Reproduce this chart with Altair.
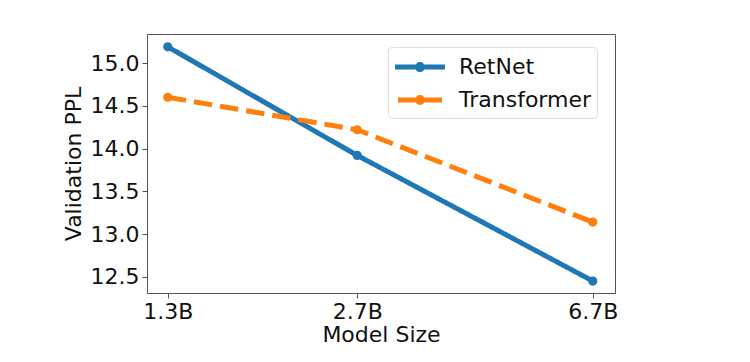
import altair as alt
import pandas as pd

sizes = [1.3, 2.7, 6.7]
retnet = [15.19, 13.92, 12.45]
transformer = [14.60, 14.22, 13.14]
series = ["RetNet", "Transformer"]

rows = []
for s, vals in zip(series, [retnet, transformer]):
    for x, v in zip(sizes, vals):
        rows.append({"size": x, "ppl": v, "model": s})
df = pd.DataFrame(rows)

FONT = "DejaVu Sans"

DOT = "M0.2,0A0.2,0.2,0,1,1,-0.2,0A0.2,0.2,0,1,1,0.2,0"
SHAPE_SOLID = "M-2,0L2,0" + DOT
SHAPE_DASH = "M-1.76,0L1.76,0" + DOT

chart = alt.Chart(df).mark_line(
    strokeWidth=5,
    point=alt.OverlayMarkDef(filled=True, size=85, opacity=1),
).encode(
    x=alt.X("size:Q",
            scale=alt.Scale(type="log", domain=[1.2, 7.3], nice=False),
            axis=alt.Axis(values=sizes, labelExpr="format(datum.value, '.1f') + 'B'",
                          title="Model Size", grid=False)),
    y=alt.Y("ppl:Q",
            scale=alt.Scale(domain=[12.31, 15.34], nice=False, zero=False),
            axis=alt.Axis(values=[12.5, 13.0, 13.5, 14.0, 14.5, 15.0], format=".1f",
                          title="Validation PPL", grid=False)),
    color=alt.Color("model:N",
                    scale=alt.Scale(domain=series, range=["#1f77b4", "#ff7f0e"]),
                    legend=alt.Legend(
                        title=None,
                        symbolType={"expr": "datum.value === 'RetNet' ? '%s' : '%s'" % (SHAPE_SOLID, SHAPE_DASH)},
                        symbolDash={"expr": "datum.value === 'RetNet' ? [1, 0] : [17, 13, 14]"},
                        symbolFillColor="transparent",
                    )),
    strokeDash=alt.StrokeDash("model:N",
                              scale=alt.Scale(domain=series, range=[[1, 0], [18.5, 8]]),
                              legend=None),
).properties(
    width=468, height=259,
    padding={"left": 139, "top": 26, "right": 100, "bottom": 60},
    autosize=alt.AutoSizeParams(type="none"),
).configure_view(
    stroke="#555", strokeWidth=1
).configure_axis(
    labelFont=FONT, titleFont=FONT, labelFontSize=22, titleFontSize=22,
    labelColor="#111", titleColor="#111", titleFontWeight="normal",
    domainColor="#555", tickColor="#555", tickSize=5, labelPadding=3,
).configure_axisX(
    titlePadding=2, labelFlush=False,
).configure_axisY(
    titlePadding=5,
).configure_legend(
    orient="none", legendX=241, legendY=13,
    labelFont=FONT, labelFontSize=22, labelColor="#111",
    symbolSize=625, symbolStrokeWidth=5, symbolOffset=12,
    strokeColor="#ddd", fillColor="white", cornerRadius=4,
    padding=5, rowPadding=5, labelOffset=24,
)

chart.save("out.html", embed_options={"renderer": "svg", "actions": False})
